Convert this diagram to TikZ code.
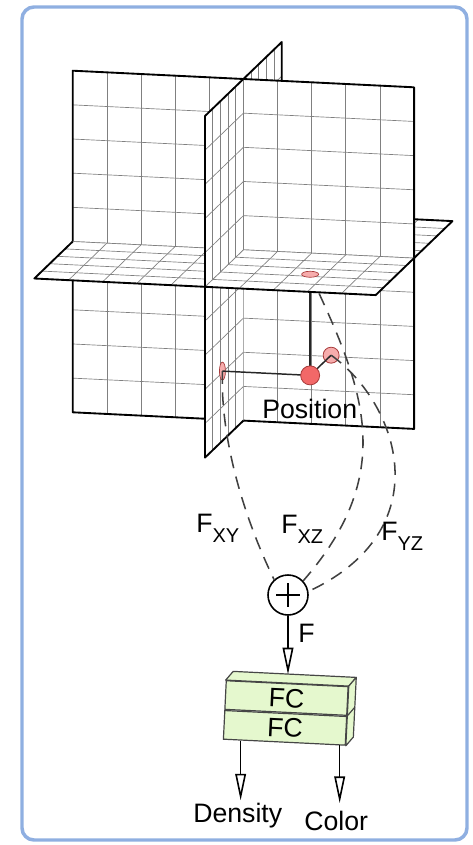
\documentclass[tikz,border=0pt]{standalone}
\usepackage{fontspec}
\setmainfont{Liberation Sans}
\usetikzlibrary{arrows.meta, positioning, calc}

\definecolor{framecol}{RGB}{143,175,225}
\definecolor{dotred}{RGB}{242,104,104}
\definecolor{dotpink}{RGB}{246,172,172}
\definecolor{dotedge}{RGB}{168,58,58}
\definecolor{fcgreen}{RGB}{229,248,206}
\definecolor{boxedge}{RGB}{70,70,70}

\newcommand{\subF}[1]{F\raisebox{-7.5pt}{\fontsize{15}{17}\selectfont #1}}

\begin{document}
\begin{tikzpicture}[
  x=0.75pt, y=-0.75pt,
  font=\fontsize{20}{24}\selectfont,
  >={Triangle[open, length=20pt, width=8pt]},
  frame/.style={draw=framecol, line width=2.6pt, rounded corners=9pt},
  scene/.style={shift={(243.4,249.8)}, x={(25.6pt,-1.245pt)}, y={(0pt,25.62pt)}, z={(-5.76pt,-5.55pt)}},
  sheet/.style={fill=white},
  gridln/.style={draw=black!50, line width=0.5pt},
  rim/.style={draw=black, line width=1.4pt, line join=round},
  proj/.style={draw=black!85, line width=1.1pt},
  feat/.style={draw=black!75, line width=1.15pt, dash pattern=on 9.5pt off 6.5pt},
  flow/.style={->, line width=1.2pt},
  ptdot/.style={circle, draw=dotedge, line width=0.6pt, inner sep=0pt},
  spot/.style={draw=dotedge, fill=dotpink, line width=0.5pt},
  fcbox/.style={draw=boxedge, fill=fcgreen, line width=0.9pt, rotate=-2.8,
                minimum width=91.5pt, minimum height=21.5pt, inner sep=0pt},
  fcside/.style={draw=boxedge, fill=fcgreen, line width=0.9pt, line join=round},
  lbl/.style={anchor=base west, inner sep=0pt},
]
\useasboundingbox (0,0) rectangle (473,845);
\draw[frame] (22,7) rectangle (467,840);

% sum and FC layers
\node[circle, draw, line width=1.2pt, minimum size=30pt, inner sep=0pt] (sum) at (288,595) {};
\draw[line width=1pt] ($(sum.center)+(-12,0)$) -- ($(sum.center)+(12,0)$)
      ($(sum.center)+(0,-12)$) -- ($(sum.center)+(0,12)$);
\node[fcbox] (fc1) at (286.5,698) {FC};
\node[fcbox, anchor=north] (fc2) at (fc1.south) {FC};
\filldraw[fcside] (fc1.north west) -- ++(7.5,-8.7) -- ($(fc1.north east)+(7.5,-8.7)$)
      -- (fc1.north east) -- cycle;
\filldraw[fcside] (fc1.north east) -- ++(7.5,-8.7) -- ($(fc2.south east)+(7.5,-8.7)$)
      -- (fc2.south east) -- cycle;
\draw[fcside] (fc1.south east) -- ++(7.5,-8.7);
\coordinate (fctop) at ($(fc1.north)+(7.5,-8.7)$);
\draw[flow] (sum.south) -- (sum.south |- fctop);
\node[lbl] (flab) at (298,642) {F};

% outputs
\node[lbl] (dens) at (193,822) {Density};
\node[lbl] (colr) at (304,830) {Color};
\coordinate (densfoot) at ($(fc2.south west)!0.145!(fc2.south east)$);
\coordinate (colrfoot) at ($(fc2.south west)!0.95!(fc2.south east)$);
\draw[flow, shorten >=1.5pt] (densfoot) -- (densfoot |- dens.north);
\draw[flow, shorten >=5.5pt] (colrfoot) -- (colrfoot |- colr.north);

% planes, back parts first
\begin{scope}[scene]
  \coordinate (pos) at (2.57,-2.96,2.73);
  \coordinate (pxy) at (2.57,-2.96,0);
  \coordinate (pxz) at (2.57,0,2.73);
  \coordinate (pyz) at (0,-2.96,2.73);
  % back half of xz
  \fill[sheet] (-5,0,0) -- (-5,0,-5) -- (5,0,-5) -- (5,0,0) -- cycle;
  \foreach \i in {-4,...,4} \draw[gridln] (\i,0,0) -- (\i,0,-5);
  \foreach \k in {-4,...,-1} \draw[gridln] (-5,0,\k) -- (5,0,\k);
  \draw[rim] (-5,0,0) -- (-5,0,-5) -- (5,0,-5) -- (5,0,0);
  % back top of yz
  \fill[sheet] (0,0,0) -- (0,0,-5) -- (0,5,-5) -- (0,5,0) -- cycle;
  \foreach \k in {-4,...,-1} \draw[gridln] (0,0,\k) -- (0,5,\k);
  \foreach \j in {1,...,4} \draw[gridln] (0,\j,0) -- (0,\j,-5);
  \draw[rim] (0,0,-5) -- (0,5,-5) -- (0,5,0);
  % xy
  \fill[sheet] (-5,-5,0) -- (5,-5,0) -- (5,5,0) -- (-5,5,0) -- cycle;
  \foreach \i in {-4,...,4} \draw[gridln] (\i,-5,0) -- (\i,5,0);
  \foreach \j in {-4,...,4} \draw[gridln] (-5,\j,0) -- (5,\j,0);
  \draw[rim] (-5,-5,0) -- (5,-5,0) -- (5,5,0) -- (-5,5,0) -- cycle;
  % front bottom of yz
  \fill[sheet] (0,0,0) -- (0,-5,0) -- (0,-5,5) -- (0,0,5) -- cycle;
  \foreach \k in {1,...,4} \draw[gridln] (0,0,\k) -- (0,-5,\k);
  \foreach \j in {-4,...,-1} \draw[gridln] (0,\j,0) -- (0,\j,5);
  \draw[rim] (0,0,5) -- (0,-5,5) -- (0,-5,0);
\end{scope}

% lines that go under the xz plane
\draw[proj] (pos) -- (pxz);
\draw[feat] (pxz) .. controls (362,385) and (400,470) .. (sum.43);

% planes, front parts
\begin{scope}[scene]
  % front half of xz
  \fill[sheet] (-5,0,0) -- (-5,0,5) -- (5,0,5) -- (5,0,0) -- cycle;
  \foreach \i in {-4,...,4} \draw[gridln] (\i,0,0) -- (\i,0,5);
  \foreach \k in {0,...,4} \draw[gridln] (-5,0,\k) -- (5,0,\k);
  \draw[rim] (-5,0,0) -- (-5,0,5) -- (5,0,5) -- (5,0,0);
  % front top of yz
  \fill[sheet] (0,0,0) -- (0,5,0) -- (0,5,5) -- (0,0,5) -- cycle;
  \foreach \k in {0,...,4} \draw[gridln] (0,0,\k) -- (0,5,\k);
  \foreach \j in {0,...,4} \draw[gridln] (0,\j,0) -- (0,\j,5);
  \draw[rim] (0,0,5) -- (0,5,5) -- (0,5,0);
\end{scope}

% projections of the position
\draw[spot] (pxz) ellipse [x radius=8.5, y radius=3];
\draw[spot] (pyz) ellipse [x radius=3, y radius=9];
\node[ptdot, fill=dotpink, minimum size=12pt] (pxydot) at (pxy) {};
\draw[proj] (pos) -- (pxy);
\draw[proj] (pos) -- (pyz);
\draw[feat] (pxy) .. controls (400,405) and (440,530) .. (sum.10);
\draw[feat] (pyz) .. controls (220,440) and (245,520) .. (sum.132);
\node[ptdot, fill=dotred, minimum size=14.25pt] (posdot) at (pos) {};
\node[lbl] (poslab) at (262,418) {Position};

% feature labels
\node[lbl] (fxy) at (196,532) {\subF{XY}};
\node[lbl] (fxz) at (281,533) {\subF{XZ}};
\node[lbl] (fyz) at (381,540) {\subF{YZ}};
\end{tikzpicture}
\end{document}
